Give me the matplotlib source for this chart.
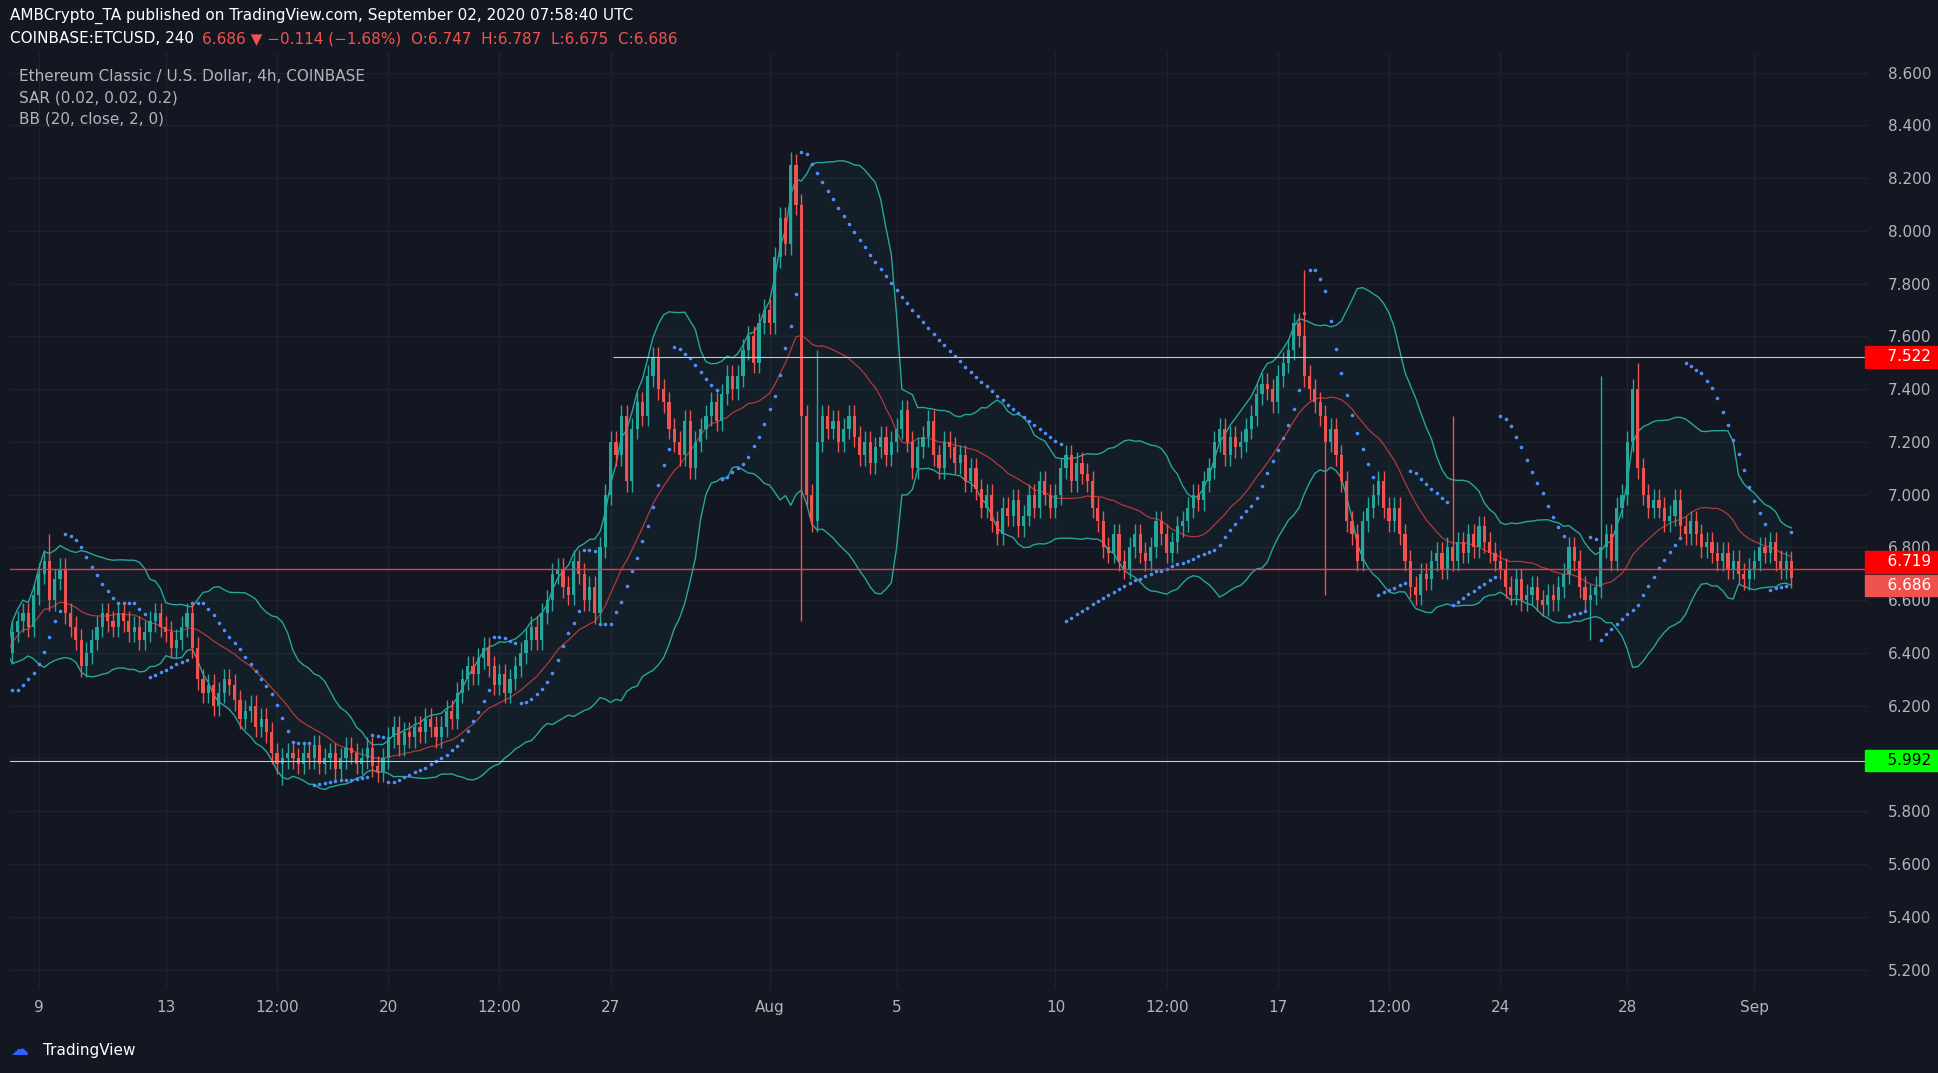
import numpy as np
import pandas as pd
from matplotlib import pyplot as plt
from matplotlib import transforms

BG = "#131722"
UP = "#26a69a"
DOWN = "#ef5350"
TXT = "#b2b5be"

# 4h closes, six per day from Jul 8 2020 00:00
closes = [
    6.40, 6.48, 6.52, 6.55, 6.50, 6.62,  6.70, 6.75, 6.60, 6.68, 6.72, 6.55,
    6.50, 6.45, 6.35, 6.40, 6.45, 6.50,  6.55, 6.52, 6.50, 6.55, 6.52, 6.48,
    6.50, 6.45, 6.48, 6.52, 6.55, 6.50,  6.48, 6.42, 6.45, 6.50, 6.55, 6.42,
    6.30, 6.25, 6.28, 6.20, 6.25, 6.30,  6.28, 6.22, 6.15, 6.18, 6.20, 6.12,
    6.15, 6.10, 6.02, 5.98, 6.00, 6.02,  6.00, 5.98, 6.02, 6.00, 6.05, 5.98,
    6.00, 6.02, 5.96, 6.00, 6.04, 6.02,  5.98, 6.00, 6.04, 5.97, 5.95, 6.00,
    6.08, 6.12, 6.05, 6.10, 6.08, 6.12,  6.10, 6.15, 6.12, 6.08, 6.12, 6.18,
    6.15, 6.25, 6.30, 6.35, 6.32, 6.38,  6.42, 6.35, 6.28, 6.32, 6.25, 6.30,
    6.35, 6.40, 6.45, 6.50, 6.45, 6.55,  6.60, 6.70, 6.72, 6.65, 6.62, 6.75,
    6.70, 6.60, 6.65, 6.55, 6.80, 7.00,  7.20, 7.15, 7.30, 7.05, 7.25, 7.35,
    7.30, 7.45, 7.52, 7.40, 7.35, 7.25,  7.20, 7.15, 7.28, 7.10, 7.20, 7.25,
    7.30, 7.35, 7.28, 7.38, 7.45, 7.40,  7.45, 7.55, 7.60, 7.50, 7.65, 7.70,
    7.65, 7.90, 8.05, 7.95, 8.25, 8.10,  7.30, 7.00, 6.90, 7.20, 7.30, 7.25,
    7.28, 7.20, 7.25, 7.30, 7.22, 7.15,  7.20, 7.12, 7.18, 7.22, 7.15, 7.20,
    7.25, 7.32, 7.20, 7.10, 7.18, 7.22,  7.28, 7.15, 7.10, 7.20, 7.18, 7.12,
    7.15, 7.05, 7.10, 7.02, 6.95, 7.00,  6.90, 6.85, 6.95, 6.92, 6.98, 6.88,
    6.92, 7.00, 6.95, 7.05, 7.00, 6.95,  7.00, 7.10, 7.15, 7.05, 7.12, 7.08,
    7.05, 6.95, 6.90, 6.80, 6.78, 6.85,  6.75, 6.72, 6.80, 6.85, 6.78, 6.75,
    6.80, 6.90, 6.85, 6.78, 6.82, 6.88,  6.90, 6.95, 7.00, 6.98, 7.05, 7.10,
    7.20, 7.25, 7.15, 7.22, 7.18, 7.20,  7.25, 7.30, 7.38, 7.42, 7.40, 7.35,
    7.45, 7.50, 7.55, 7.65, 7.60, 7.45,  7.40, 7.35, 7.30, 7.20, 7.25, 7.15,
    7.05, 6.90, 6.85, 6.75, 6.90, 6.95,  7.00, 7.05, 6.95, 6.90, 6.95, 6.85,
    6.75, 6.65, 6.62, 6.70, 6.68, 6.75,  6.78, 6.72, 6.80, 6.75, 6.82, 6.78,
    6.85, 6.80, 6.88, 6.82, 6.78, 6.75,  6.72, 6.65, 6.62, 6.68, 6.60, 6.62,
    6.65, 6.60, 6.58, 6.62, 6.60, 6.65,  6.70, 6.80, 6.75, 6.65, 6.60, 6.62,
    6.65, 6.80, 6.85, 6.75, 6.95, 7.00,  7.20, 7.40, 7.10, 7.00, 6.95, 6.98,
    6.95, 6.90, 6.92, 6.98, 6.88, 6.85,  6.90, 6.85, 6.80, 6.82, 6.78, 6.75,
    6.78, 6.72, 6.75, 6.70, 6.68, 6.72,  6.75, 6.80, 6.78, 6.82, 6.75, 6.72,
    6.747, 6.686,
]
first_open = 6.30
# long wicks: bar index -> (high, low)
spikes = {8: (6.85, None), 52: (None, 5.90), 148: (8.30, None), 150: (None, 6.52),
          153: (7.55, None), 245: (7.85, None), 249: (None, 6.62), 273: (7.30, None),
          299: (None, 6.45), 301: (7.45, None), 308: (7.50, None)}

tick_pos = [6, 30, 51, 72, 93, 114, 144, 168, 198, 219, 240, 261, 282, 306, 330]
tick_lbl = ["9", "13", "12:00", "20", "12:00", "27", "Aug", "5", "10", "12:00",
            "17", "12:00", "24", "28", "Sep"]
y_ticks = [5.2, 5.4, 5.6, 5.8, 6.0, 6.2, 6.4, 6.6, 6.8, 7.0, 7.2, 7.4, 7.6, 7.8, 8.0, 8.2, 8.4, 8.6]

c = np.array(closes)
o = np.concatenate([[first_open], c[:-1]])
hi = np.maximum(o, c) + 0.04
lo = np.minimum(o, c) - 0.04
for i, (h, l) in spikes.items():
    if h is not None:
        hi[i] = h
    if l is not None:
        lo[i] = l
x = np.arange(len(c))

# bollinger bands
s = pd.Series(c)
mid = s.rolling(20, min_periods=1).mean()
sd = s.rolling(20, min_periods=1).std(ddof=0)
upper, lower = mid + 2 * sd, mid - 2 * sd

# parabolic SAR
sar = np.zeros(len(c))
bull, af, ep = True, 0.02, hi[0]
sar[0] = lo[0]
for i in range(1, len(c)):
    v = sar[i - 1] + af * (ep - sar[i - 1])
    if bull:
        v = min(v, lo[i - 1], lo[max(i - 2, 0)])
        if lo[i] < v:
            bull, v, ep, af = False, ep, lo[i], 0.02
        elif hi[i] > ep:
            ep, af = hi[i], min(af + 0.02, 0.2)
    else:
        v = max(v, hi[i - 1], hi[max(i - 2, 0)])
        if hi[i] > v:
            bull, v, ep, af = True, ep, hi[i], 0.02
        elif lo[i] < ep:
            ep, af = lo[i], min(af + 0.02, 0.2)
    sar[i] = v

fig = plt.figure(figsize=(19.38, 10.73), dpi=100, facecolor=BG)
ax = fig.add_axes([0.005, 0.078, 0.959, 0.874])
ax.set_facecolor(BG)
ax.set_xlim(0.5, 351.5)
ax.set_ylim(5.125, 8.68)

ax.fill_between(x, lower, upper, color=UP, alpha=0.05, lw=0)
ax.plot(x, upper, color=UP, lw=1)
ax.plot(x, lower, color=UP, lw=1)
ax.plot(x, mid, color="#b23a3a", lw=0.9)
ax.scatter(x, sar, s=2.5, color="#4f8ef7", zorder=2)

col = np.where(c >= o, UP, DOWN)
ax.vlines(x, lo, hi, colors=col, lw=1, zorder=3)
ax.bar(x, np.maximum(np.abs(c - o), 0.006), bottom=np.minimum(o, c), width=0.6,
       color=col, zorder=4)

ax.axhline(6.719, color="#f23645", lw=1, zorder=5)
ax.axhline(5.992, color="#c8cbd2", lw=0.8, zorder=5)
ax.hlines(7.522, 114.5, 351.5, color="#c8cbd2", lw=0.8, zorder=5)

for sp in ax.spines.values():
    sp.set_visible(False)
ax.set_xticks(tick_pos)
ax.set_xticklabels(tick_lbl)
ax.set_yticks(y_ticks)
ax.set_yticklabels([f"{v:.3f}" for v in y_ticks])
ax.yaxis.tick_right()
ax.tick_params(colors=TXT, labelsize=11, length=0, pad=8)
ax.tick_params(axis="y", pad=14)
ax.grid(color="#1e222d", lw=1)
ax.set_axisbelow(True)

# price labels on the scale (6.719 / 6.686 nudged apart as in the reference)
tr = transforms.blended_transform_factory(ax.transAxes, ax.transData)
for val, ypos, fc, tc in [(7.522, 7.522, "#ff0000", "white"), (6.719, 6.745, "#ff0000", "white"),
                          (6.686, 6.655, "#ef5350", "white"), (5.992, 5.992, "#00ff00", "black")]:
    ax.text(1.0, ypos, f"    {val:.3f} ", transform=tr, color=tc, fontsize=11,
            va="center", ha="left", zorder=10, clip_on=False,
            bbox=dict(boxstyle="square,pad=0.2", fc=fc, ec=fc))

fig.text(0.005, 0.985, "AMBCrypto_TA published on TradingView.com, September 02, 2020 07:58:40 UTC",
         color="white", fontsize=11, va="center")
fig.text(0.005, 0.964, "COINBASE:ETCUSD, 240", color="white", fontsize=11, va="center")
fig.text(0.104, 0.964, "6.686 \u25bc \u22120.114 (\u22121.68%)  O:6.747  H:6.787  L:6.675  C:6.686",
         color=DOWN, fontsize=11, va="center")
fig.text(0.010, 0.929, "Ethereum Classic / U.S. Dollar, 4h, COINBASE", color=TXT, fontsize=11, va="center")
fig.text(0.010, 0.909, "SAR (0.02, 0.02, 0.2)", color=TXT, fontsize=11, va="center")
fig.text(0.010, 0.889, "BB (20, close, 2, 0)", color=TXT, fontsize=11, va="center")
fig.text(0.022, 0.021, "TradingView", color="white", fontsize=11, va="center")
fig.text(0.005, 0.021, "\u2601", color="#2962ff", fontsize=13, va="center")

fig.savefig("out.png", dpi=100, facecolor=BG)
